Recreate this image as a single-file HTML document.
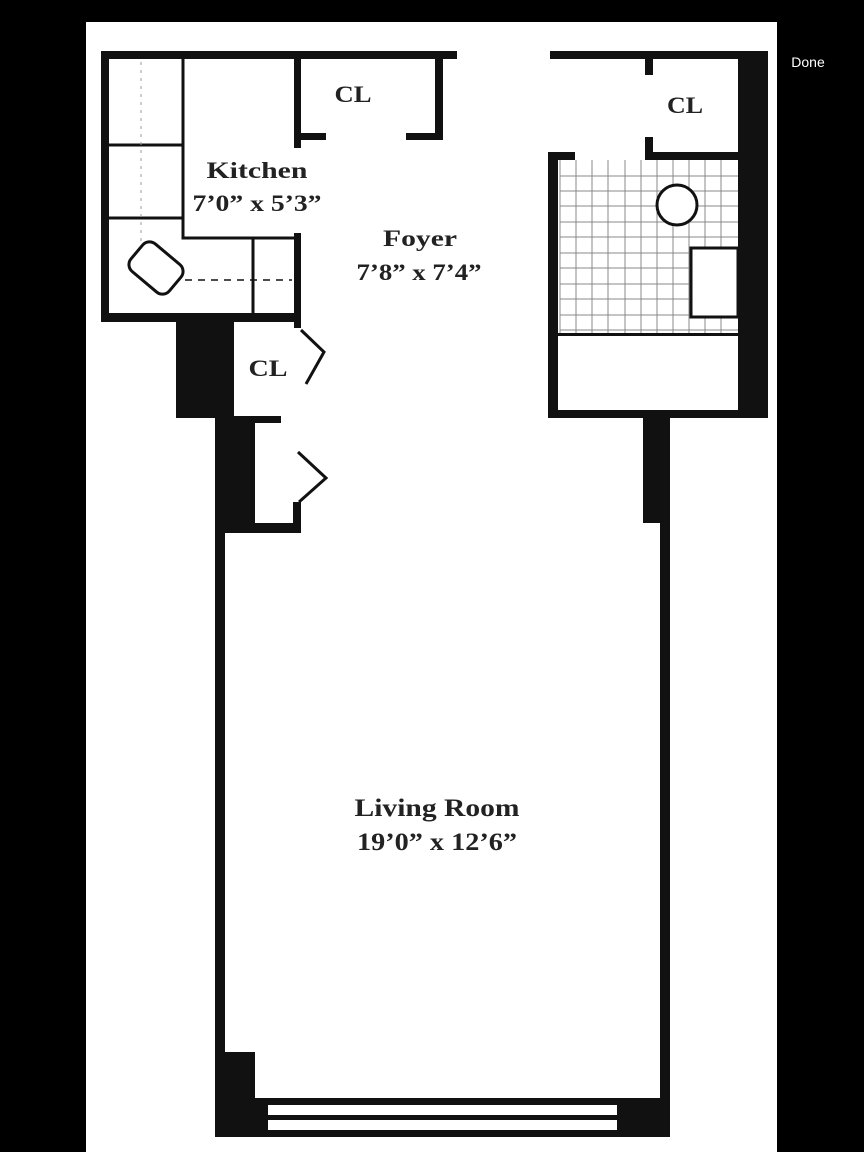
<!DOCTYPE html>
<html><head><meta charset="utf-8"><style>
html,body{margin:0;padding:0;background:#000;}
svg{display:block;}
text{font-family:"Liberation Serif",serif;font-weight:bold;fill:#222;text-anchor:middle;}
</style></head><body>
<svg width="864" height="1152" viewBox="0 0 864 1152" xmlns="http://www.w3.org/2000/svg">
<rect x="0" y="0" width="864" height="1152" fill="#000"/>
<rect x="86" y="22" width="691" height="1130" fill="#fff"/>
<text x="808" y="67" style="font-family:'Liberation Sans',sans-serif;font-weight:normal;font-size:14px;fill:#fff">Done</text>
<g fill="#111">
<rect x="101" y="51" width="356" height="8"/>
<rect x="550" y="51" width="218" height="8"/>
<rect x="101" y="51" width="8" height="271"/>
<rect x="101" y="313" width="200" height="9"/>
<rect x="294" y="51" width="7" height="97"/>
<rect x="301" y="133" width="25" height="7"/>
<rect x="406" y="133" width="37" height="7"/>
<rect x="435" y="51" width="8" height="89"/>
<rect x="294" y="233" width="7" height="95"/>
<rect x="176" y="322" width="58" height="96"/>
<rect x="215" y="416" width="66" height="7"/>
<rect x="215" y="418" width="40" height="115"/>
<rect x="255" y="523" width="45" height="10"/>
<rect x="293" y="502" width="8" height="31"/>
<rect x="215" y="530" width="10" height="600"/>
<rect x="215" y="1052" width="40" height="85"/>
<rect x="215" y="1098" width="455" height="39"/>
<rect x="660" y="418" width="10" height="719"/>
<rect x="643" y="418" width="27" height="105"/>
<rect x="738" y="51" width="30" height="367"/>
<rect x="645" y="51" width="8" height="24"/>
<rect x="645" y="137" width="8" height="20"/>
<rect x="645" y="152" width="93" height="8"/>
<rect x="548" y="152" width="27" height="8"/>
<rect x="548" y="152" width="10" height="266"/>
<rect x="548" y="410" width="220" height="8"/>
</g>
<rect x="268" y="1105" width="349" height="10" fill="#fff"/>
<rect x="268" y="1120" width="349" height="10" fill="#fff"/>
<g stroke="#111" fill="none">
<path d="M183 59 V238 H294" stroke-width="3"/>
<path d="M109 145 H183 M109 218 H183" stroke-width="3"/>
<path d="M253 238 V313" stroke-width="3"/>
<path d="M146 280 H292" stroke-width="1.5" stroke-dasharray="7,6"/>
<path d="M141 62 V245" stroke-width="1" stroke-dasharray="3,5" stroke="#999"/>
<rect x="131" y="250" width="50" height="36" rx="9" transform="rotate(40 156 268)" stroke-width="3" fill="#fff"/>
<path d="M301 330 L324 352 L306 384" stroke-width="3"/>
<path d="M298 452 L326 478 L299 502" stroke-width="3"/>
</g>
<g stroke="#888" stroke-width="1">
<path d="M560 176H738M560 191H738M560 206H738M560 222H738M560 237H738M560 253H738M560 268H738M560 284H738M560 299H738M560 315H738M560 330H738"/>
<path d="M560 160V335M576 160V335M592 160V335M608 160V335M625 160V335M641 160V335M657 160V335M673 160V335M689 160V335M705 160V335M721 160V335"/>
</g>
<rect x="558" y="333" width="180" height="3" fill="#111"/>
<circle cx="677" cy="205" r="20" fill="#fff" stroke="#111" stroke-width="3"/>
<rect x="691" y="248" width="47" height="69" fill="#fff" stroke="#111" stroke-width="3"/>
<text x="353" y="102" font-size="23" textLength="37" lengthAdjust="spacingAndGlyphs">CL</text>
<text x="685" y="113" font-size="23" textLength="36" lengthAdjust="spacingAndGlyphs">CL</text>
<text x="268" y="376" font-size="23" textLength="39" lengthAdjust="spacingAndGlyphs">CL</text>
<text x="257" y="178" font-size="23" textLength="101" lengthAdjust="spacingAndGlyphs">Kitchen</text>
<text x="257" y="211" font-size="23" textLength="129" lengthAdjust="spacingAndGlyphs">7’0” x 5’3”</text>
<text x="420" y="246" font-size="23" textLength="74" lengthAdjust="spacingAndGlyphs">Foyer</text>
<text x="419" y="280" font-size="23" textLength="125" lengthAdjust="spacingAndGlyphs">7’8” x 7’4”</text>
<text x="437" y="816" font-size="25" textLength="165" lengthAdjust="spacingAndGlyphs">Living Room</text>
<text x="437" y="850" font-size="25" textLength="160" lengthAdjust="spacingAndGlyphs">19’0” x 12’6”</text>
</svg>
</body></html>
